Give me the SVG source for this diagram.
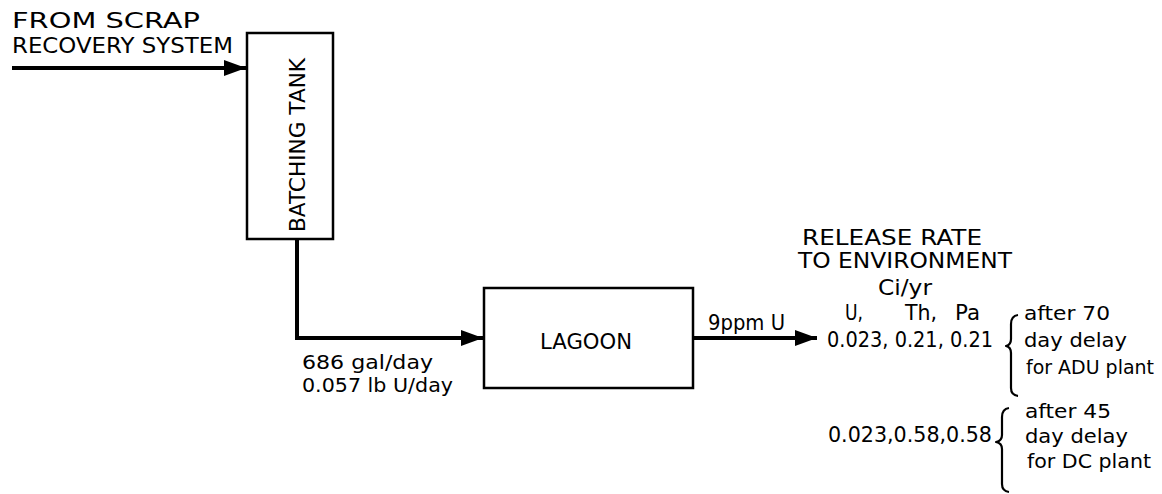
<svg xmlns="http://www.w3.org/2000/svg" width="1162" height="494" viewBox="0 0 1162 494">
<style>
text{font-family:"DejaVu Sans","Liberation Sans",Arial,sans-serif;font-size:21px;fill:#000}
.sm{font-size:19px}
.box{fill:#fff;stroke:#000;stroke-width:2.5}
.flow{fill:none;stroke:#000;stroke-width:4}
.brace{fill:none;stroke:#000;stroke-width:2.2;stroke-linejoin:round}
</style>
<defs>
<marker id="ah" markerWidth="22" markerHeight="16" refX="22" refY="8" orient="auto" markerUnits="userSpaceOnUse">
<path d="M0,0 L22,8 L0,16 Z" fill="#000"/>
</marker>
</defs>
<rect width="1162" height="494" fill="#fff"/>
<g id="connectors">
<line class="flow" x1="12" y1="68" x2="246" y2="68" marker-end="url(#ah)"/>
<polyline class="flow" points="297,239 297,338 483,338" marker-end="url(#ah)"/>
<line class="flow" x1="693" y1="338" x2="817" y2="338" marker-end="url(#ah)"/>
</g>
<g id="source">
<text x="12" y="28" textLength="188" lengthAdjust="spacingAndGlyphs">FROM SCRAP</text>
<text x="12" y="53" textLength="221" lengthAdjust="spacingAndGlyphs">RECOVERY SYSTEM</text>
</g>
<g id="batching-tank">
<rect class="box" x="247" y="33" width="86" height="206"/>
<text transform="translate(305,232) rotate(-90)" textLength="174" lengthAdjust="spacingAndGlyphs">BATCHING TANK</text>
</g>
<g id="lagoon">
<rect class="box" x="484" y="288" width="209" height="100"/>
<text x="540" y="349" textLength="92" lengthAdjust="spacingAndGlyphs">LAGOON</text>
</g>
<g id="flow-labels">
<text class="sm" x="302" y="369" textLength="131" lengthAdjust="spacingAndGlyphs">686 gal/day</text>
<text class="sm" x="302" y="392" textLength="151" lengthAdjust="spacingAndGlyphs">0.057 lb U/day</text>
<text x="708" y="330" textLength="77" lengthAdjust="spacingAndGlyphs">9ppm U</text>
</g>
<g id="release">
<text x="802" y="245" textLength="180" lengthAdjust="spacingAndGlyphs">RELEASE RATE</text>
<text x="798" y="268" textLength="214" lengthAdjust="spacingAndGlyphs">TO ENVIRONMENT</text>
<text x="878" y="295" textLength="54" lengthAdjust="spacingAndGlyphs">Ci/yr</text>
<text x="845" y="320" textLength="18" lengthAdjust="spacingAndGlyphs">U,</text>
<text x="905" y="320" textLength="32" lengthAdjust="spacingAndGlyphs">Th,</text>
<text x="955" y="320" textLength="25" lengthAdjust="spacingAndGlyphs">Pa</text>
<text x="827" y="347" textLength="166" lengthAdjust="spacingAndGlyphs">0.023, 0.21, 0.21</text>
<path class="brace" d="M1018,315 Q1011,316 1011,324 L1011,339 Q1011,345 1006,346 Q1011,347 1011,353 L1011,388 Q1011,395 1018,396"/>
<text class="sm" x="1024" y="320" textLength="86" lengthAdjust="spacingAndGlyphs">after 70</text>
<text class="sm" x="1024" y="347" textLength="103" lengthAdjust="spacingAndGlyphs">day delay</text>
<text class="sm" x="1026" y="374" textLength="128" lengthAdjust="spacingAndGlyphs">for ADU plant</text>
<text x="828" y="442" textLength="164" lengthAdjust="spacingAndGlyphs">0.023,0.58,0.58</text>
<path class="brace" d="M1009,408 Q1002,409 1002,417 L1002,435 Q1002,441 996,442 Q1002,443 1002,449 L1002,484 Q1002,491 1009,492"/>
<text class="sm" x="1025" y="418" textLength="86" lengthAdjust="spacingAndGlyphs">after 45</text>
<text class="sm" x="1025" y="443" textLength="103" lengthAdjust="spacingAndGlyphs">day delay</text>
<text class="sm" x="1027" y="468" textLength="124" lengthAdjust="spacingAndGlyphs">for DC plant</text>
</g>
</svg>
